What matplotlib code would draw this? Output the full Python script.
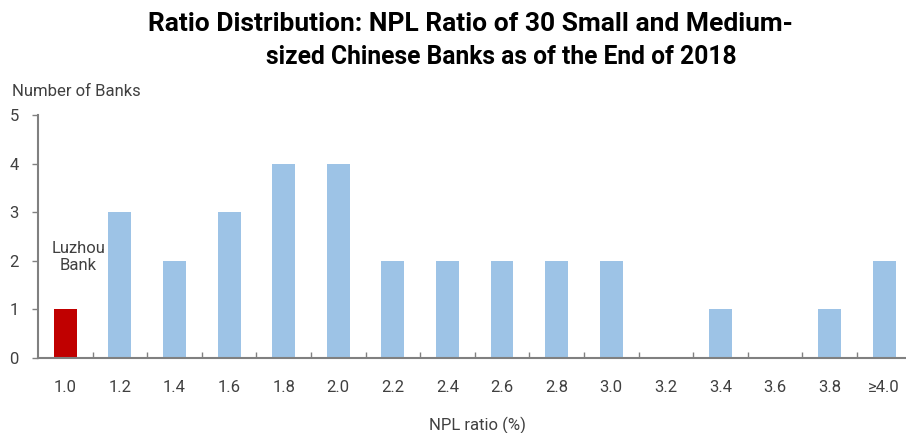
import matplotlib
matplotlib.use("Agg")
import matplotlib.pyplot as plt
from matplotlib import font_manager

categories = ["1.0", "1.2", "1.4", "1.6", "1.8", "2.0", "2.2", "2.4", "2.6", "2.8",
              "3.0", "3.2", "3.4", "3.6", "3.8", "≥4.0"]
counts = [1, 3, 2, 3, 4, 4, 2, 2, 2, 2, 2, 0, 1, 0, 1, 2]
highlight = "1.0"
yticks = [0, 1, 2, 3, 4, 5]
title_lines = ["Ratio Distribution: NPL Ratio of 30 Small and Medium-",
               "sized Chinese Banks as of the End of 2018"]

names = {f.name for f in font_manager.fontManager.ttflist}
narrow = "Liberation Sans Narrow" if "Liberation Sans Narrow" in names else "Roboto"
plt.rcParams['font.family'] = [narrow, 'DejaVu Sans']

fig = plt.figure(figsize=(9.06, 4.33), dpi=100)
ax = fig.add_axes([38/906, 1 - 358/433, (906-38)/906, (358-115)/433])

colors = ["#C00000" if c == highlight else "#9DC3E6" for c in categories]
x = list(range(len(categories)))
ax.bar(x, counts, width=0.42, color=colors, zorder=2)

ax.set_xlim(-0.5, 15.4)
ax.set_ylim(0, 5)
ax.set_yticks(yticks)
ax.set_yticklabels([str(v) for v in yticks], fontsize=12, color="#404040")
ax.set_xticks(x)
ax.set_xticklabels(categories, fontsize=12, color="#404040")
ax.set_xticks([i + 0.5 for i in x[:-1]], minor=True)
ax.tick_params(axis='x', which='major', length=0, pad=16)
ax.tick_params(axis='x', which='minor', length=4, direction='in', color="#808080", width=1)
ax.tick_params(axis='y', length=4, direction='out', color="#808080", width=1, pad=10)

for s in ["top", "right"]:
    ax.spines[s].set_visible(False)
for s in ["left", "bottom"]:
    ax.spines[s].set_color("#808080")
    ax.spines[s].set_linewidth(1.5)

ax.text(0.24, 2.08, "Luzhou\nBank", ha="center", va="center", fontsize=12,
        color="#404040", linespacing=1.15)

fig.text(12/906, 1 - 92/433, "Number of Banks", fontsize=12, color="#404040",
         ha="left", va="center")
fig.text(477/906, 1 - 425/433, "NPL ratio (%)", fontsize=12, color="#404040",
         ha="center", va="center")

fig.text(470/906, 1 - 24/433, title_lines[0], fontsize=19, fontweight="bold",
         ha="center", va="center", family=["Roboto", "DejaVu Sans"], color="#000000")
fig.text(501/906, 1 - 57/433, title_lines[1], fontsize=17.7, fontweight="bold",
         ha="center", va="center", family=["Roboto", "DejaVu Sans"], color="#000000")

fig.savefig("out.png", dpi=100)
